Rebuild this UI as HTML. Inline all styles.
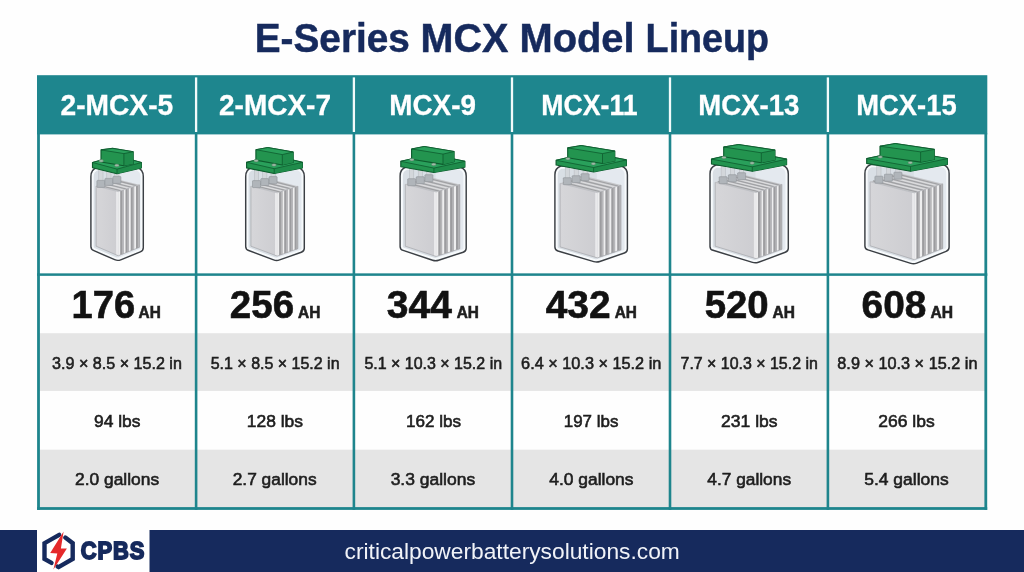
<!DOCTYPE html>
<html lang="en"><head><meta charset="utf-8"><title>E-Series MCX Model Lineup</title>
<style>
html,body{margin:0;padding:0;}
body{width:1024px;height:572px;overflow:hidden;background:#fefefe;position:relative;font-family:"Liberation Sans",Arial,sans-serif;}
.b{position:absolute;}
.t{position:absolute;left:0;top:0;white-space:pre;line-height:1;transform-origin:0 0;margin:0;}
h1.title{margin:0;font-size:41.3px;font-weight:bold;color:#162a5d;-webkit-text-stroke:0.5px #162a5d;}
</style></head><body>
<svg class="b" style="left:0;top:0" width="1024" height="572" viewBox="0 0 1024 572">
<rect x="37.00" y="75.20" width="950.30" height="59.20" fill="#1e868e"/>
<rect x="38.00" y="333.20" width="948.30" height="57.70" fill="#e5e5e5"/>
<rect x="38.00" y="449.70" width="948.30" height="59.20" fill="#e5e5e5"/>
<rect x="37.10" y="133.40" width="2.80" height="376.50" fill="#1e858d"/>
<rect x="984.40" y="133.40" width="2.80" height="376.50" fill="#1e858d"/>
<rect x="37.10" y="507.10" width="950.10" height="2.80" fill="#1e858d"/>
<rect x="37.00" y="273.35" width="950.30" height="2.50" fill="#1e858d"/>
<rect x="194.80" y="132.40" width="2.60" height="377.50" fill="#1e858d"/>
<rect x="194.95" y="77.40" width="2.30" height="54.60" fill="#f1fafa"/>
<rect x="352.60" y="132.40" width="2.60" height="377.50" fill="#1e858d"/>
<rect x="352.75" y="77.40" width="2.30" height="54.60" fill="#f1fafa"/>
<rect x="510.70" y="132.40" width="2.60" height="377.50" fill="#1e858d"/>
<rect x="510.85" y="77.40" width="2.30" height="54.60" fill="#f1fafa"/>
<rect x="668.70" y="132.40" width="2.60" height="377.50" fill="#1e858d"/>
<rect x="668.85" y="77.40" width="2.30" height="54.60" fill="#f1fafa"/>
<rect x="826.60" y="132.40" width="2.60" height="377.50" fill="#1e858d"/>
<rect x="826.75" y="77.40" width="2.30" height="54.60" fill="#f1fafa"/>
<rect x="0.00" y="530.00" width="1024.00" height="42.00" fill="#162a5d"/>
<rect x="37.00" y="530.00" width="112.50" height="42.00" fill="#ffffff"/>
</svg>
<h1 class="title">
<span class="t" style="transform:translate(254.71px,18.00px) scaleX(0.9387)">E-Series </span>
<span class="t" style="transform:translate(420.58px,18.00px) scaleX(0.9579)">MCX </span>
<span class="t" style="transform:translate(519.48px,18.00px) scaleX(0.9649)">Model </span>
<span class="t" style="transform:translate(645.61px,18.00px) scaleX(0.9125)">Lineup</span>
</h1>
<div class="t" style="font-size:28.97px;font-weight:bold;color:#ffffff;transform:translate(60.52px,91.00px) scaleX(0.9723);-webkit-text-stroke:0.3px #ffffff;">2-MCX-5</div>
<div class="t" style="font-size:28.97px;font-weight:bold;color:#ffffff;transform:translate(219.00px,91.00px) scaleX(0.9665);-webkit-text-stroke:0.3px #ffffff;">2-MCX-7</div>
<div class="t" style="font-size:28.97px;font-weight:bold;color:#ffffff;transform:translate(389.32px,91.00px) scaleX(0.9608);-webkit-text-stroke:0.3px #ffffff;">MCX-9</div>
<div class="t" style="font-size:28.97px;font-weight:bold;color:#ffffff;transform:translate(541.31px,91.00px) scaleX(0.9202);-webkit-text-stroke:0.3px #ffffff;">MCX-11</div>
<div class="t" style="font-size:28.97px;font-weight:bold;color:#ffffff;transform:translate(698.28px,91.00px) scaleX(0.9516);-webkit-text-stroke:0.3px #ffffff;">MCX-13</div>
<div class="t" style="font-size:28.97px;font-weight:bold;color:#ffffff;transform:translate(856.31px,91.00px) scaleX(0.9439);-webkit-text-stroke:0.3px #ffffff;">MCX-15</div>
<div class="t" style="font-size:38.53px;font-weight:bold;color:#121212;transform:translate(71.51px,286.00px) scaleX(0.9890);-webkit-text-stroke:0.6px #121212;">176</div>
<div class="t" style="font-size:16.33px;font-weight:bold;color:#1f1f1f;transform:translate(138.61px,304.00px) scaleX(0.9420);-webkit-text-stroke:0.6px #1f1f1f;">AH</div>
<div class="t" style="font-size:38.53px;font-weight:bold;color:#121212;transform:translate(229.84px,286.00px) scaleX(1.0014);-webkit-text-stroke:0.6px #121212;">256</div>
<div class="t" style="font-size:16.33px;font-weight:bold;color:#1f1f1f;transform:translate(298.02px,304.00px) scaleX(0.9457);-webkit-text-stroke:0.6px #1f1f1f;">AH</div>
<div class="t" style="font-size:38.53px;font-weight:bold;color:#121212;transform:translate(386.84px,286.00px) scaleX(1.0126);-webkit-text-stroke:0.6px #121212;">344</div>
<div class="t" style="font-size:16.33px;font-weight:bold;color:#1f1f1f;transform:translate(456.68px,304.00px) scaleX(0.9427);-webkit-text-stroke:0.6px #1f1f1f;">AH</div>
<div class="t" style="font-size:38.53px;font-weight:bold;color:#121212;transform:translate(545.71px,286.00px) scaleX(1.0107);-webkit-text-stroke:0.6px #121212;">432</div>
<div class="t" style="font-size:16.33px;font-weight:bold;color:#1f1f1f;transform:translate(614.68px,304.00px) scaleX(0.9427);-webkit-text-stroke:0.6px #1f1f1f;">AH</div>
<div class="t" style="font-size:38.53px;font-weight:bold;color:#121212;transform:translate(704.66px,286.00px) scaleX(0.9970);-webkit-text-stroke:0.6px #121212;">520</div>
<div class="t" style="font-size:16.33px;font-weight:bold;color:#1f1f1f;transform:translate(772.56px,304.00px) scaleX(0.9495);-webkit-text-stroke:0.6px #1f1f1f;">AH</div>
<div class="t" style="font-size:38.53px;font-weight:bold;color:#121212;transform:translate(861.54px,286.00px) scaleX(1.0091);-webkit-text-stroke:0.6px #121212;">608</div>
<div class="t" style="font-size:16.33px;font-weight:bold;color:#1f1f1f;transform:translate(930.44px,304.00px) scaleX(0.9574);-webkit-text-stroke:0.6px #1f1f1f;">AH</div>
<div class="t" style="font-size:17.28px;font-weight:normal;color:#1e1e1e;transform:translate(52.10px,355.00px) scaleX(0.9324);-webkit-text-stroke:0.6px #1e1e1e;">3.9 × 8.5 × 15.2 in</div>
<div class="t" style="font-size:17.28px;font-weight:normal;color:#1e1e1e;transform:translate(210.72px,355.00px) scaleX(0.9254);-webkit-text-stroke:0.6px #1e1e1e;">5.1 × 8.5 × 15.2 in</div>
<div class="t" style="font-size:17.28px;font-weight:normal;color:#1e1e1e;transform:translate(364.41px,355.00px) scaleX(0.9251);-webkit-text-stroke:0.6px #1e1e1e;">5.1 × 10.3 × 15.2 in</div>
<div class="t" style="font-size:17.28px;font-weight:normal;color:#1e1e1e;transform:translate(521.10px,355.00px) scaleX(0.9425);-webkit-text-stroke:0.6px #1e1e1e;">6.4 × 10.3 × 15.2 in</div>
<div class="t" style="font-size:17.28px;font-weight:normal;color:#1e1e1e;transform:translate(680.53px,355.00px) scaleX(0.9228);-webkit-text-stroke:0.6px #1e1e1e;">7.7 × 10.3 × 15.2 in</div>
<div class="t" style="font-size:17.28px;font-weight:normal;color:#1e1e1e;transform:translate(837.33px,355.00px) scaleX(0.9416);-webkit-text-stroke:0.6px #1e1e1e;">8.9 × 10.3 × 15.2 in</div>
<div class="t" style="font-size:17.28px;font-weight:normal;color:#1e1e1e;transform:translate(93.99px,413.00px) scaleX(1.0087);-webkit-text-stroke:0.6px #1e1e1e;">94 lbs</div>
<div class="t" style="font-size:17.28px;font-weight:normal;color:#1e1e1e;transform:translate(246.80px,413.00px) scaleX(1.0093);-webkit-text-stroke:0.6px #1e1e1e;">128 lbs</div>
<div class="t" style="font-size:17.28px;font-weight:normal;color:#1e1e1e;transform:translate(405.96px,413.00px) scaleX(0.9885);-webkit-text-stroke:0.6px #1e1e1e;">162 lbs</div>
<div class="t" style="font-size:17.28px;font-weight:normal;color:#1e1e1e;transform:translate(563.77px,413.00px) scaleX(0.9808);-webkit-text-stroke:0.6px #1e1e1e;">197 lbs</div>
<div class="t" style="font-size:17.28px;font-weight:normal;color:#1e1e1e;transform:translate(721.05px,413.00px) scaleX(1.0146);-webkit-text-stroke:0.6px #1e1e1e;">231 lbs</div>
<div class="t" style="font-size:17.28px;font-weight:normal;color:#1e1e1e;transform:translate(878.24px,413.00px) scaleX(1.0140);-webkit-text-stroke:0.6px #1e1e1e;">266 lbs</div>
<div class="t" style="font-size:17.28px;font-weight:normal;color:#1e1e1e;transform:translate(75.07px,471.00px) scaleX(1.0057);-webkit-text-stroke:0.6px #1e1e1e;">2.0 gallons</div>
<div class="t" style="font-size:17.28px;font-weight:normal;color:#1e1e1e;transform:translate(232.67px,471.00px) scaleX(1.0046);-webkit-text-stroke:0.6px #1e1e1e;">2.7 gallons</div>
<div class="t" style="font-size:17.28px;font-weight:normal;color:#1e1e1e;transform:translate(390.65px,471.00px) scaleX(1.0115);-webkit-text-stroke:0.6px #1e1e1e;">3.3 gallons</div>
<div class="t" style="font-size:17.28px;font-weight:normal;color:#1e1e1e;transform:translate(549.26px,471.00px) scaleX(1.0090);-webkit-text-stroke:0.6px #1e1e1e;">4.0 gallons</div>
<div class="t" style="font-size:17.28px;font-weight:normal;color:#1e1e1e;transform:translate(707.26px,471.00px) scaleX(1.0034);-webkit-text-stroke:0.6px #1e1e1e;">4.7 gallons</div>
<div class="t" style="font-size:17.28px;font-weight:normal;color:#1e1e1e;transform:translate(864.23px,471.00px) scaleX(1.0111);-webkit-text-stroke:0.6px #1e1e1e;">5.4 gallons</div>
<div class="t" style="font-size:21.70px;font-weight:normal;color:#f1f3f8;transform:translate(344.55px,541.00px) scaleX(1.0494);">criticalpowerbatterysolutions.com</div>
<div class="t" style="font-size:23.79px;font-weight:bold;color:#162a5d;transform:translate(80.80px,539.00px) scaleX(0.9201);-webkit-text-stroke:1.8px #162a5d;letter-spacing:1.0px;">CPBS</div>
<svg class="b" style="left:37px;top:530px" width="113" height="42" viewBox="37 530 113 42">
<g fill="none" stroke="#162a5d" stroke-width="4.4" stroke-linejoin="miter" stroke-linecap="round">
<polyline points="59.2,534.9 44.5,543.2 44.5,558.9 51.5,562.9"/>
<polyline points="65.3,537.6 72.7,543.2 72.7,558.9 58.6,567.1 57.6,566.6"/>
</g>
<polygon points="63.6,531.6 50.2,553.0 57.3,553.5 53.4,569.6 66.9,548.6 60.9,548.4" fill="#e5292b"/>
</svg>
<svg class="b" style="left:0;top:134px" width="1024" height="140" viewBox="0 134 1024 140">
<defs><linearGradient id="pg" x1="0" y1="0" x2="1" y2="0"><stop offset="0" stop-color="#d6d6d9"/><stop offset="1" stop-color="#cdcdd1"/></linearGradient></defs>
<clipPath id="jc0"><path d="M96.9,167.5 Q90.9,169.5 90.9,176.5 L90.9,246.4 Q90.9,249.4 93.9,250.7 L114.7,259.7 Q117.7,261.0 120.7,259.8 L140.3,251.9 Q143.3,250.7 143.3,247.7 L143.3,176.5 Q143.3,169.5 137.3,167.5 Z"/></clipPath>
<path d="M96.9,167.5 Q90.9,169.5 90.9,176.5 L90.9,246.4 Q90.9,249.4 93.9,250.7 L114.7,259.7 Q117.7,261.0 120.7,259.8 L140.3,251.9 Q143.3,250.7 143.3,247.7 L143.3,176.5 Q143.3,169.5 137.3,167.5 Z" fill="#d9dfe5"/>
<g clip-path="url(#jc0)">
<polygon points="117.7,167.5 143.3,167.5 143.3,250.7 117.7,261.0" fill="#e4e9ef"/>
<path d="M96.9,167.5 Q90.9,169.5 90.9,176.5 L90.9,246.4 Q90.9,249.4 93.9,250.7 L114.7,259.7 Q117.7,261.0 120.7,259.8 L140.3,251.9 Q143.3,250.7 143.3,247.7 L143.3,176.5 Q143.3,169.5 137.3,167.5 Z" fill="none" stroke="#f7fafc" stroke-width="5.6"/>
<polygon points="96.1,186.0 118.3,191.6 139.4,184.8 117.2,179.2" fill="#c6c7ca"/>
<line x1="98.7" y1="185.2" x2="120.9" y2="190.7" stroke="#9fa0a3" stroke-width="1.1"/>
<line x1="101.4" y1="184.3" x2="123.6" y2="189.9" stroke="#e4e4e6" stroke-width="0.8"/>
<line x1="104.0" y1="183.5" x2="126.2" y2="189.0" stroke="#9fa0a3" stroke-width="1.1"/>
<line x1="106.7" y1="182.6" x2="128.8" y2="188.2" stroke="#e4e4e6" stroke-width="0.8"/>
<line x1="109.3" y1="181.8" x2="131.5" y2="187.3" stroke="#9fa0a3" stroke-width="1.1"/>
<line x1="111.9" y1="180.9" x2="134.1" y2="186.5" stroke="#e4e4e6" stroke-width="0.8"/>
<line x1="114.6" y1="180.1" x2="136.8" y2="185.6" stroke="#9fa0a3" stroke-width="1.1"/>
<polygon points="118.3,191.6 139.4,184.8 139.4,247.3 118.3,255.8" fill="#eeeeef"/>
<polygon points="120.2,190.9 123.6,189.9 123.6,253.7 120.2,255.0" fill="#9c9c9f"/>
<polygon points="122.1,190.3 123.6,189.9 123.6,253.7 122.1,254.3" fill="#b7b7ba"/>
<polygon points="125.5,189.3 128.8,188.2 128.8,251.6 125.5,252.9" fill="#9c9c9f"/>
<polygon points="127.3,188.7 128.8,188.2 128.8,251.6 127.3,252.2" fill="#b7b7ba"/>
<polygon points="130.7,187.6 134.1,186.5 134.1,249.4 130.7,250.8" fill="#9c9c9f"/>
<polygon points="132.6,187.0 134.1,186.5 134.1,249.4 132.6,250.1" fill="#b7b7ba"/>
<polygon points="136.0,185.9 139.4,184.8 139.4,247.3 136.0,248.7" fill="#9c9c9f"/>
<polygon points="137.9,185.3 139.4,184.8 139.4,247.3 137.9,247.9" fill="#b7b7ba"/>
<polygon points="96.1,186.0 118.3,191.6 118.3,255.8 96.1,246.2" fill="url(#pg)"/>
<polygon points="116.1,191.1 118.3,191.6 118.3,255.8 116.1,254.9" fill="#e9e9eb"/>
<polyline points="96.1,186.0 96.1,246.2 118.3,255.8 139.4,247.3 139.4,184.8" fill="none" stroke="#a3a5a9" stroke-width="0.7"/>
<polyline points="96.1,186.0 118.3,191.6 139.4,184.8" fill="none" stroke="#b2b4b8" stroke-width="0.6"/>
<rect x="98.8" y="166.5" width="4.2" height="18.9" fill="#d3d7db" stroke="#b4b8bd" stroke-width="0.5"/>
<rect x="96.9" y="180.4" width="8.0" height="7.0" rx="0.6" fill="#b0b5ba" stroke="#8f9499" stroke-width="0.6"/>
<rect x="106.8" y="166.5" width="4.2" height="16.9" fill="#d3d7db" stroke="#b4b8bd" stroke-width="0.5"/>
<rect x="104.9" y="178.4" width="8.0" height="7.0" rx="0.6" fill="#b0b5ba" stroke="#8f9499" stroke-width="0.6"/>
<rect x="114.8" y="166.5" width="4.2" height="14.9" fill="#d3d7db" stroke="#b4b8bd" stroke-width="0.5"/>
<rect x="112.9" y="176.4" width="8.0" height="7.0" rx="0.6" fill="#b0b5ba" stroke="#8f9499" stroke-width="0.6"/>
</g>
<path d="M96.9,167.5 Q90.9,169.5 90.9,176.5 L90.9,246.4 Q90.9,249.4 93.9,250.7 L114.7,259.7 Q117.7,261.0 120.7,259.8 L140.3,251.9 Q143.3,250.7 143.3,247.7 L143.3,176.5 Q143.3,169.5 137.3,167.5 Z" fill="none" stroke="#3b3f44" stroke-width="1.45" stroke-linejoin="round"/>
<polygon points="92.5,162.5 116.9,155.9 141.4,162.5 141.4,168.0 117.0,173.7 92.5,167.7" fill="#23944f" stroke="#0e5c2e" stroke-width="1.15" stroke-linejoin="round"/>
<polygon points="117.0,169.1 141.4,162.5 141.4,168.0 117.0,173.7" fill="#1f8c4b"/>
<polygon points="92.5,162.5 116.9,155.9 141.4,162.5 117.0,169.1" fill="#29a05b" stroke="#0e5c2e" stroke-width="0.8" stroke-linejoin="round"/>
<line x1="117.0" y1="169.1" x2="117.0" y2="173.7" stroke="#0e5c2e" stroke-width="0.8"/>
<polygon points="101.0,149.9 112.6,148.4 133.2,151.7 133.2,163.8 123.9,165.8 101.0,162.0" fill="#23944f" stroke="#0e5c2e" stroke-width="1.15" stroke-linejoin="round"/>
<polygon points="123.9,153.6 133.2,151.7 133.2,163.8 123.9,165.8" fill="#1f8c4b"/>
<polygon points="101.0,149.9 112.6,148.4 133.2,151.7 123.9,153.6" fill="#29a05b" stroke="#0e5c2e" stroke-width="0.8" stroke-linejoin="round"/>
<line x1="123.9" y1="153.6" x2="123.9" y2="165.8" stroke="#0e5c2e" stroke-width="0.8"/>
<ellipse cx="101.2" cy="160.9" rx="2.3" ry="1.3" fill="#9fbca8" stroke="#4f7d5e" stroke-width="0.5"/>
<ellipse cx="116.8" cy="165.4" rx="2.3" ry="1.3" fill="#9fbca8" stroke="#4f7d5e" stroke-width="0.5"/>
<clipPath id="jc1"><path d="M251.7,167.5 Q245.7,169.5 245.7,176.5 L245.7,246.4 Q245.7,249.4 248.7,250.5 L273.6,259.9 Q276.6,261.0 279.6,259.9 L301.3,252.3 Q304.3,251.2 304.3,248.2 L304.3,176.5 Q304.3,169.5 298.3,167.5 Z"/></clipPath>
<path d="M251.7,167.5 Q245.7,169.5 245.7,176.5 L245.7,246.4 Q245.7,249.4 248.7,250.5 L273.6,259.9 Q276.6,261.0 279.6,259.9 L301.3,252.3 Q304.3,251.2 304.3,248.2 L304.3,176.5 Q304.3,169.5 298.3,167.5 Z" fill="#d9dfe5"/>
<g clip-path="url(#jc1)">
<polygon points="276.6,167.5 304.3,167.5 304.3,251.2 276.6,261.0" fill="#e4e9ef"/>
<path d="M251.7,167.5 Q245.7,169.5 245.7,176.5 L245.7,246.4 Q245.7,249.4 248.7,250.5 L273.6,259.9 Q276.6,261.0 279.6,259.9 L301.3,252.3 Q304.3,251.2 304.3,248.2 L304.3,176.5 Q304.3,169.5 298.3,167.5 Z" fill="none" stroke="#f7fafc" stroke-width="5.6"/>
<polygon points="250.9,186.2 277.2,192.8 297.9,186.2 271.6,179.6" fill="#c6c7ca"/>
<line x1="253.5" y1="185.4" x2="279.8" y2="191.9" stroke="#9fa0a3" stroke-width="1.1"/>
<line x1="256.1" y1="184.5" x2="282.4" y2="191.1" stroke="#e4e4e6" stroke-width="0.8"/>
<line x1="258.7" y1="183.7" x2="285.0" y2="190.3" stroke="#9fa0a3" stroke-width="1.1"/>
<line x1="261.2" y1="182.9" x2="287.6" y2="189.5" stroke="#e4e4e6" stroke-width="0.8"/>
<line x1="263.8" y1="182.1" x2="290.1" y2="188.6" stroke="#9fa0a3" stroke-width="1.1"/>
<line x1="266.4" y1="181.2" x2="292.7" y2="187.8" stroke="#e4e4e6" stroke-width="0.8"/>
<line x1="269.0" y1="180.4" x2="295.3" y2="187.0" stroke="#9fa0a3" stroke-width="1.1"/>
<polygon points="277.2,192.8 297.9,186.2 297.9,248.7 277.2,256.1" fill="#eeeeef"/>
<polygon points="279.1,192.2 282.4,191.1 282.4,254.2 279.1,255.4" fill="#9c9c9f"/>
<polygon points="280.9,191.6 282.4,191.1 282.4,254.2 280.9,254.8" fill="#b7b7ba"/>
<polygon points="284.2,190.5 287.6,189.5 287.6,252.4 284.2,253.6" fill="#9c9c9f"/>
<polygon points="286.1,189.9 287.6,189.5 287.6,252.4 286.1,252.9" fill="#b7b7ba"/>
<polygon points="289.4,188.9 292.7,187.8 292.7,250.6 289.4,251.8" fill="#9c9c9f"/>
<polygon points="291.2,188.3 292.7,187.8 292.7,250.6 291.2,251.1" fill="#b7b7ba"/>
<polygon points="294.6,187.2 297.9,186.2 297.9,248.7 294.6,249.9" fill="#9c9c9f"/>
<polygon points="296.4,186.6 297.9,186.2 297.9,248.7 296.4,249.3" fill="#b7b7ba"/>
<polygon points="250.9,186.2 277.2,192.8 277.2,256.1 250.9,246.2" fill="url(#pg)"/>
<polygon points="275.0,192.3 277.2,192.8 277.2,256.1 275.0,255.2" fill="#e9e9eb"/>
<polyline points="250.9,186.2 250.9,246.2 277.2,256.1 297.9,248.7 297.9,186.2" fill="none" stroke="#a3a5a9" stroke-width="0.7"/>
<polyline points="250.9,186.2 277.2,192.8 297.9,186.2" fill="none" stroke="#b2b4b8" stroke-width="0.6"/>
<rect x="254.4" y="166.5" width="4.2" height="19.1" fill="#d3d7db" stroke="#b4b8bd" stroke-width="0.5"/>
<rect x="252.5" y="180.6" width="8.0" height="7.0" rx="0.6" fill="#b0b5ba" stroke="#8f9499" stroke-width="0.6"/>
<rect x="262.7" y="166.5" width="4.2" height="17.1" fill="#d3d7db" stroke="#b4b8bd" stroke-width="0.5"/>
<rect x="260.8" y="178.6" width="8.0" height="7.0" rx="0.6" fill="#b0b5ba" stroke="#8f9499" stroke-width="0.6"/>
<rect x="271.0" y="166.5" width="4.2" height="15.1" fill="#d3d7db" stroke="#b4b8bd" stroke-width="0.5"/>
<rect x="269.1" y="176.6" width="8.0" height="7.0" rx="0.6" fill="#b0b5ba" stroke="#8f9499" stroke-width="0.6"/>
</g>
<path d="M251.7,167.5 Q245.7,169.5 245.7,176.5 L245.7,246.4 Q245.7,249.4 248.7,250.5 L273.6,259.9 Q276.6,261.0 279.6,259.9 L301.3,252.3 Q304.3,251.2 304.3,248.2 L304.3,176.5 Q304.3,169.5 298.3,167.5 Z" fill="none" stroke="#3b3f44" stroke-width="1.45" stroke-linejoin="round"/>
<polygon points="246.6,162.3 274.9,155.9 302.4,162.3 302.4,168.0 274.2,173.5 246.6,167.9" fill="#23944f" stroke="#0e5c2e" stroke-width="1.15" stroke-linejoin="round"/>
<polygon points="274.2,168.7 302.4,162.3 302.4,168.0 274.2,173.5" fill="#1f8c4b"/>
<polygon points="246.6,162.3 274.9,155.9 302.4,162.3 274.2,168.7" fill="#29a05b" stroke="#0e5c2e" stroke-width="0.8" stroke-linejoin="round"/>
<line x1="274.2" y1="168.7" x2="274.2" y2="173.5" stroke="#0e5c2e" stroke-width="0.8"/>
<polygon points="255.9,149.7 267.8,147.6 293.2,152.0 293.2,162.4 282.3,165.0 255.9,160.1" fill="#23944f" stroke="#0e5c2e" stroke-width="1.15" stroke-linejoin="round"/>
<polygon points="282.3,154.6 293.2,152.0 293.2,162.4 282.3,165.0" fill="#1f8c4b"/>
<polygon points="255.9,149.7 267.8,147.6 293.2,152.0 282.3,154.6" fill="#29a05b" stroke="#0e5c2e" stroke-width="0.8" stroke-linejoin="round"/>
<line x1="282.3" y1="154.6" x2="282.3" y2="165.0" stroke="#0e5c2e" stroke-width="0.8"/>
<ellipse cx="256.1" cy="160.7" rx="2.3" ry="1.3" fill="#9fbca8" stroke="#4f7d5e" stroke-width="0.5"/>
<ellipse cx="274.0" cy="165.0" rx="2.3" ry="1.3" fill="#9fbca8" stroke="#4f7d5e" stroke-width="0.5"/>
<clipPath id="jc2"><path d="M406.1,167.0 Q400.1,169.0 400.1,176.0 L400.1,246.4 Q400.1,249.4 403.1,250.4 L432.6,260.2 Q435.6,261.2 438.6,260.2 L463.2,252.2 Q466.2,251.2 466.2,248.2 L466.2,176.0 Q466.2,169.0 460.2,167.0 Z"/></clipPath>
<path d="M406.1,167.0 Q400.1,169.0 400.1,176.0 L400.1,246.4 Q400.1,249.4 403.1,250.4 L432.6,260.2 Q435.6,261.2 438.6,260.2 L463.2,252.2 Q466.2,251.2 466.2,248.2 L466.2,176.0 Q466.2,169.0 460.2,167.0 Z" fill="#d9dfe5"/>
<g clip-path="url(#jc2)">
<polygon points="435.6,167.0 466.2,167.0 466.2,251.2 435.6,261.2" fill="#e4e9ef"/>
<path d="M406.1,167.0 Q400.1,169.0 400.1,176.0 L400.1,246.4 Q400.1,249.4 403.1,250.4 L432.6,260.2 Q435.6,261.2 438.6,260.2 L463.2,252.2 Q466.2,251.2 466.2,248.2 L466.2,176.0 Q466.2,169.0 460.2,167.0 Z" fill="none" stroke="#f7fafc" stroke-width="5.6"/>
<polygon points="405.3,184.3 436.2,192.0 459.8,184.5 428.9,176.7" fill="#c6c7ca"/>
<line x1="408.2" y1="183.4" x2="439.2" y2="191.1" stroke="#9fa0a3" stroke-width="1.1"/>
<line x1="411.2" y1="182.4" x2="442.1" y2="190.1" stroke="#e4e4e6" stroke-width="0.8"/>
<line x1="414.1" y1="181.5" x2="445.1" y2="189.2" stroke="#9fa0a3" stroke-width="1.1"/>
<line x1="417.1" y1="180.5" x2="448.0" y2="188.2" stroke="#e4e4e6" stroke-width="0.8"/>
<line x1="420.1" y1="179.6" x2="451.0" y2="187.3" stroke="#9fa0a3" stroke-width="1.1"/>
<line x1="423.0" y1="178.6" x2="453.9" y2="186.4" stroke="#e4e4e6" stroke-width="0.8"/>
<line x1="425.9" y1="177.7" x2="456.9" y2="185.4" stroke="#9fa0a3" stroke-width="1.1"/>
<polygon points="436.2,192.0 459.8,184.5 459.8,248.8 436.2,256.5" fill="#eeeeef"/>
<polygon points="438.3,191.3 442.1,190.1 442.1,254.5 438.3,255.8" fill="#9c9c9f"/>
<polygon points="440.4,190.7 442.1,190.1 442.1,254.5 440.4,255.1" fill="#b7b7ba"/>
<polygon points="444.2,189.5 448.0,188.2 448.0,252.6 444.2,253.8" fill="#9c9c9f"/>
<polygon points="446.3,188.8 448.0,188.2 448.0,252.6 446.3,253.2" fill="#b7b7ba"/>
<polygon points="450.1,187.6 453.9,186.4 453.9,250.7 450.1,251.9" fill="#9c9c9f"/>
<polygon points="452.2,186.9 453.9,186.4 453.9,250.7 452.2,251.2" fill="#b7b7ba"/>
<polygon points="456.0,185.7 459.8,184.5 459.8,248.8 456.0,250.0" fill="#9c9c9f"/>
<polygon points="458.1,185.0 459.8,184.5 459.8,248.8 458.1,249.3" fill="#b7b7ba"/>
<polygon points="405.3,184.3 436.2,192.0 436.2,256.5 405.3,246.2" fill="url(#pg)"/>
<polygon points="434.0,191.6 436.2,192.0 436.2,256.5 434.0,255.7" fill="#e9e9eb"/>
<polyline points="405.3,184.3 405.3,246.2 436.2,256.5 459.8,248.8 459.8,184.5" fill="none" stroke="#a3a5a9" stroke-width="0.7"/>
<polyline points="405.3,184.3 436.2,192.0 459.8,184.5" fill="none" stroke="#b2b4b8" stroke-width="0.6"/>
<rect x="409.6" y="166.0" width="4.2" height="17.7" fill="#d3d7db" stroke="#b4b8bd" stroke-width="0.5"/>
<rect x="407.7" y="178.7" width="8.0" height="7.0" rx="0.6" fill="#b0b5ba" stroke="#8f9499" stroke-width="0.6"/>
<rect x="418.2" y="166.0" width="4.2" height="15.7" fill="#d3d7db" stroke="#b4b8bd" stroke-width="0.5"/>
<rect x="416.3" y="176.7" width="8.0" height="7.0" rx="0.6" fill="#b0b5ba" stroke="#8f9499" stroke-width="0.6"/>
<rect x="426.8" y="166.0" width="4.2" height="13.7" fill="#d3d7db" stroke="#b4b8bd" stroke-width="0.5"/>
<rect x="424.9" y="174.7" width="8.0" height="7.0" rx="0.6" fill="#b0b5ba" stroke="#8f9499" stroke-width="0.6"/>
</g>
<path d="M406.1,167.0 Q400.1,169.0 400.1,176.0 L400.1,246.4 Q400.1,249.4 403.1,250.4 L432.6,260.2 Q435.6,261.2 438.6,260.2 L463.2,252.2 Q466.2,251.2 466.2,248.2 L466.2,176.0 Q466.2,169.0 460.2,167.0 Z" fill="none" stroke="#3b3f44" stroke-width="1.45" stroke-linejoin="round"/>
<polygon points="400.8,161.3 431.8,154.5 464.9,161.3 464.9,167.1 433.9,172.5 400.8,166.7" fill="#23944f" stroke="#0e5c2e" stroke-width="1.15" stroke-linejoin="round"/>
<polygon points="433.9,168.1 464.9,161.3 464.9,167.1 433.9,172.5" fill="#1f8c4b"/>
<polygon points="400.8,161.3 431.8,154.5 464.9,161.3 433.9,168.1" fill="#29a05b" stroke="#0e5c2e" stroke-width="0.8" stroke-linejoin="round"/>
<line x1="433.9" y1="168.1" x2="433.9" y2="172.5" stroke="#0e5c2e" stroke-width="0.8"/>
<polygon points="411.6,149.0 424.2,146.5 454.1,151.5 454.1,161.8 443.0,164.4 411.6,159.3" fill="#23944f" stroke="#0e5c2e" stroke-width="1.15" stroke-linejoin="round"/>
<polygon points="443.0,154.1 454.1,151.5 454.1,161.8 443.0,164.4" fill="#1f8c4b"/>
<polygon points="411.6,149.0 424.2,146.5 454.1,151.5 443.0,154.1" fill="#29a05b" stroke="#0e5c2e" stroke-width="0.8" stroke-linejoin="round"/>
<line x1="443.0" y1="154.1" x2="443.0" y2="164.4" stroke="#0e5c2e" stroke-width="0.8"/>
<ellipse cx="411.8" cy="159.7" rx="2.3" ry="1.3" fill="#9fbca8" stroke="#4f7d5e" stroke-width="0.5"/>
<ellipse cx="433.7" cy="164.4" rx="2.3" ry="1.3" fill="#9fbca8" stroke="#4f7d5e" stroke-width="0.5"/>
<clipPath id="jc3"><path d="M560.9,166.0 Q554.9,168.0 554.9,175.0 L554.9,247.1 Q554.9,250.1 557.9,251.0 L593.8,261.6 Q596.8,262.5 599.8,261.5 L624.4,253.0 Q627.4,252.0 627.4,249.0 L627.4,175.0 Q627.4,168.0 621.4,166.0 Z"/></clipPath>
<path d="M560.9,166.0 Q554.9,168.0 554.9,175.0 L554.9,247.1 Q554.9,250.1 557.9,251.0 L593.8,261.6 Q596.8,262.5 599.8,261.5 L624.4,253.0 Q627.4,252.0 627.4,249.0 L627.4,175.0 Q627.4,168.0 621.4,166.0 Z" fill="#d9dfe5"/>
<g clip-path="url(#jc3)">
<polygon points="596.8,166.0 627.4,166.0 627.4,252.0 596.8,262.5" fill="#e4e9ef"/>
<path d="M560.9,166.0 Q554.9,168.0 554.9,175.0 L554.9,247.1 Q554.9,250.1 557.9,251.0 L593.8,261.6 Q596.8,262.5 599.8,261.5 L624.4,253.0 Q627.4,252.0 627.4,249.0 L627.4,175.0 Q627.4,168.0 621.4,166.0 Z" fill="none" stroke="#f7fafc" stroke-width="5.6"/>
<polygon points="560.1,183.3 597.4,192.6 621.0,185.1 583.7,175.7" fill="#c6c7ca"/>
<line x1="563.1" y1="182.4" x2="600.4" y2="191.7" stroke="#9fa0a3" stroke-width="1.1"/>
<line x1="566.0" y1="181.4" x2="603.3" y2="190.7" stroke="#e4e4e6" stroke-width="0.8"/>
<line x1="569.0" y1="180.5" x2="606.2" y2="189.8" stroke="#9fa0a3" stroke-width="1.1"/>
<line x1="571.9" y1="179.5" x2="609.2" y2="188.8" stroke="#e4e4e6" stroke-width="0.8"/>
<line x1="574.9" y1="178.6" x2="612.1" y2="187.9" stroke="#9fa0a3" stroke-width="1.1"/>
<line x1="577.8" y1="177.6" x2="615.1" y2="187.0" stroke="#e4e4e6" stroke-width="0.8"/>
<line x1="580.8" y1="176.7" x2="618.0" y2="186.0" stroke="#9fa0a3" stroke-width="1.1"/>
<polygon points="597.4,192.6 621.0,185.1 621.0,249.8 597.4,257.9" fill="#eeeeef"/>
<polygon points="599.5,191.9 603.3,190.7 603.3,255.9 599.5,257.2" fill="#9c9c9f"/>
<polygon points="601.6,191.3 603.3,190.7 603.3,255.9 601.6,256.5" fill="#b7b7ba"/>
<polygon points="605.4,190.1 609.2,188.8 609.2,253.9 605.4,255.2" fill="#9c9c9f"/>
<polygon points="607.5,189.4 609.2,188.8 609.2,253.9 607.5,254.5" fill="#b7b7ba"/>
<polygon points="611.3,188.2 615.1,187.0 615.1,251.9 611.3,253.2" fill="#9c9c9f"/>
<polygon points="613.4,187.5 615.1,187.0 615.1,251.9 613.4,252.4" fill="#b7b7ba"/>
<polygon points="617.2,186.3 621.0,185.1 621.0,249.8 617.2,251.1" fill="#9c9c9f"/>
<polygon points="619.3,185.6 621.0,185.1 621.0,249.8 619.3,250.4" fill="#b7b7ba"/>
<polygon points="560.1,183.3 597.4,192.6 597.4,257.9 560.1,246.9" fill="url(#pg)"/>
<polygon points="595.2,192.2 597.4,192.6 597.4,257.9 595.2,257.3" fill="#e9e9eb"/>
<polyline points="560.1,183.3 560.1,246.9 597.4,257.9 621.0,249.8 621.0,185.1" fill="none" stroke="#a3a5a9" stroke-width="0.7"/>
<polyline points="560.1,183.3 597.4,192.6 621.0,185.1" fill="none" stroke="#b2b4b8" stroke-width="0.6"/>
<rect x="565.2" y="165.0" width="4.2" height="17.7" fill="#d3d7db" stroke="#b4b8bd" stroke-width="0.5"/>
<rect x="563.3" y="177.7" width="8.0" height="7.0" rx="0.6" fill="#b0b5ba" stroke="#8f9499" stroke-width="0.6"/>
<rect x="574.1" y="165.0" width="4.2" height="15.7" fill="#d3d7db" stroke="#b4b8bd" stroke-width="0.5"/>
<rect x="572.2" y="175.7" width="8.0" height="7.0" rx="0.6" fill="#b0b5ba" stroke="#8f9499" stroke-width="0.6"/>
<rect x="583.0" y="165.0" width="4.2" height="13.7" fill="#d3d7db" stroke="#b4b8bd" stroke-width="0.5"/>
<rect x="581.1" y="173.7" width="8.0" height="7.0" rx="0.6" fill="#b0b5ba" stroke="#8f9499" stroke-width="0.6"/>
</g>
<path d="M560.9,166.0 Q554.9,168.0 554.9,175.0 L554.9,247.1 Q554.9,250.1 557.9,251.0 L593.8,261.6 Q596.8,262.5 599.8,261.5 L624.4,253.0 Q627.4,252.0 627.4,249.0 L627.4,175.0 Q627.4,168.0 621.4,166.0 Z" fill="none" stroke="#3b3f44" stroke-width="1.45" stroke-linejoin="round"/>
<polygon points="556.1,160.3 588.9,152.7 626.4,159.9 626.4,165.6 593.6,172.0 556.1,165.0" fill="#23944f" stroke="#0e5c2e" stroke-width="1.15" stroke-linejoin="round"/>
<polygon points="593.6,167.5 626.4,159.9 626.4,165.6 593.6,172.0" fill="#1f8c4b"/>
<polygon points="556.1,160.3 588.9,152.7 626.4,159.9 593.6,167.5" fill="#29a05b" stroke="#0e5c2e" stroke-width="0.8" stroke-linejoin="round"/>
<line x1="593.6" y1="167.5" x2="593.6" y2="172.0" stroke="#0e5c2e" stroke-width="0.8"/>
<polygon points="567.7,147.9 581.2,145.6 614.8,151.1 614.8,161.0 602.5,163.5 567.7,157.8" fill="#23944f" stroke="#0e5c2e" stroke-width="1.15" stroke-linejoin="round"/>
<polygon points="602.5,153.6 614.8,151.1 614.8,161.0 602.5,163.5" fill="#1f8c4b"/>
<polygon points="567.7,147.9 581.2,145.6 614.8,151.1 602.5,153.6" fill="#29a05b" stroke="#0e5c2e" stroke-width="0.8" stroke-linejoin="round"/>
<line x1="602.5" y1="153.6" x2="602.5" y2="163.5" stroke="#0e5c2e" stroke-width="0.8"/>
<ellipse cx="567.9" cy="158.7" rx="2.3" ry="1.3" fill="#9fbca8" stroke="#4f7d5e" stroke-width="0.5"/>
<ellipse cx="593.4" cy="163.8" rx="2.3" ry="1.3" fill="#9fbca8" stroke="#4f7d5e" stroke-width="0.5"/>
<clipPath id="jc4"><path d="M716.0,165.0 Q710.0,167.0 710.0,174.0 L710.0,246.4 Q710.0,249.4 713.0,250.3 L752.5,262.4 Q755.5,263.3 758.5,262.2 L785.3,252.3 Q788.3,251.2 788.3,248.2 L788.3,174.0 Q788.3,167.0 782.3,165.0 Z"/></clipPath>
<path d="M716.0,165.0 Q710.0,167.0 710.0,174.0 L710.0,246.4 Q710.0,249.4 713.0,250.3 L752.5,262.4 Q755.5,263.3 758.5,262.2 L785.3,252.3 Q788.3,251.2 788.3,248.2 L788.3,174.0 Q788.3,167.0 782.3,165.0 Z" fill="#d9dfe5"/>
<g clip-path="url(#jc4)">
<polygon points="755.5,165.0 788.3,165.0 788.3,251.2 755.5,263.3" fill="#e4e9ef"/>
<path d="M716.0,165.0 Q710.0,167.0 710.0,174.0 L710.0,246.4 Q710.0,249.4 713.0,250.3 L752.5,262.4 Q755.5,263.3 758.5,262.2 L785.3,252.3 Q788.3,251.2 788.3,248.2 L788.3,174.0 Q788.3,167.0 782.3,165.0 Z" fill="none" stroke="#f7fafc" stroke-width="5.6"/>
<polygon points="715.2,182.3 756.1,192.5 781.9,184.3 741.0,174.0" fill="#c6c7ca"/>
<line x1="717.8" y1="181.5" x2="758.7" y2="191.7" stroke="#9fa0a3" stroke-width="1.1"/>
<line x1="720.4" y1="180.6" x2="761.3" y2="190.9" stroke="#e4e4e6" stroke-width="0.8"/>
<line x1="722.9" y1="179.8" x2="763.8" y2="190.0" stroke="#9fa0a3" stroke-width="1.1"/>
<line x1="725.5" y1="179.0" x2="766.4" y2="189.2" stroke="#e4e4e6" stroke-width="0.8"/>
<line x1="728.1" y1="178.2" x2="769.0" y2="188.4" stroke="#9fa0a3" stroke-width="1.1"/>
<line x1="730.7" y1="177.3" x2="771.6" y2="187.6" stroke="#e4e4e6" stroke-width="0.8"/>
<line x1="733.3" y1="176.5" x2="774.2" y2="186.7" stroke="#9fa0a3" stroke-width="1.1"/>
<line x1="735.8" y1="175.7" x2="776.7" y2="185.9" stroke="#e4e4e6" stroke-width="0.8"/>
<line x1="738.4" y1="174.9" x2="779.3" y2="185.1" stroke="#9fa0a3" stroke-width="1.1"/>
<polygon points="756.1,192.5 781.9,184.3 781.9,249.2 756.1,258.7" fill="#eeeeef"/>
<polygon points="758.0,191.9 761.3,190.9 761.3,256.8 758.0,258.0" fill="#9c9c9f"/>
<polygon points="759.8,191.3 761.3,190.9 761.3,256.8 759.8,257.3" fill="#b7b7ba"/>
<polygon points="763.1,190.3 766.4,189.2 766.4,254.9 763.1,256.1" fill="#9c9c9f"/>
<polygon points="764.9,189.7 766.4,189.2 766.4,254.9 764.9,255.4" fill="#b7b7ba"/>
<polygon points="768.3,188.6 771.6,187.6 771.6,253.0 768.3,254.2" fill="#9c9c9f"/>
<polygon points="770.1,188.0 771.6,187.6 771.6,253.0 770.1,253.5" fill="#b7b7ba"/>
<polygon points="773.4,187.0 776.7,185.9 776.7,251.1 773.4,252.3" fill="#9c9c9f"/>
<polygon points="775.3,186.4 776.7,185.9 776.7,251.1 775.3,251.6" fill="#b7b7ba"/>
<polygon points="778.6,185.3 781.9,184.3 781.9,249.2 778.6,250.4" fill="#9c9c9f"/>
<polygon points="780.4,184.7 781.9,184.3 781.9,249.2 780.4,249.7" fill="#b7b7ba"/>
<polygon points="715.2,182.3 756.1,192.5 756.1,258.7 715.2,246.2" fill="url(#pg)"/>
<polygon points="753.9,192.1 756.1,192.5 756.1,258.7 753.9,258.0" fill="#e9e9eb"/>
<polyline points="715.2,182.3 715.2,246.2 756.1,258.7 781.9,249.2 781.9,184.3" fill="none" stroke="#a3a5a9" stroke-width="0.7"/>
<polyline points="715.2,182.3 756.1,192.5 781.9,184.3" fill="none" stroke="#b2b4b8" stroke-width="0.6"/>
<rect x="721.1" y="164.0" width="4.2" height="17.7" fill="#d3d7db" stroke="#b4b8bd" stroke-width="0.5"/>
<rect x="719.2" y="176.7" width="8.0" height="7.0" rx="0.6" fill="#b0b5ba" stroke="#8f9499" stroke-width="0.6"/>
<rect x="730.3" y="164.0" width="4.2" height="15.7" fill="#d3d7db" stroke="#b4b8bd" stroke-width="0.5"/>
<rect x="728.4" y="174.7" width="8.0" height="7.0" rx="0.6" fill="#b0b5ba" stroke="#8f9499" stroke-width="0.6"/>
<rect x="739.5" y="164.0" width="4.2" height="13.7" fill="#d3d7db" stroke="#b4b8bd" stroke-width="0.5"/>
<rect x="737.6" y="172.7" width="8.0" height="7.0" rx="0.6" fill="#b0b5ba" stroke="#8f9499" stroke-width="0.6"/>
</g>
<path d="M716.0,165.0 Q710.0,167.0 710.0,174.0 L710.0,246.4 Q710.0,249.4 713.0,250.3 L752.5,262.4 Q755.5,263.3 758.5,262.2 L785.3,252.3 Q788.3,251.2 788.3,248.2 L788.3,174.0 Q788.3,167.0 782.3,165.0 Z" fill="none" stroke="#3b3f44" stroke-width="1.45" stroke-linejoin="round"/>
<polygon points="711.5,159.1 745.8,151.4 786.6,159.1 786.6,164.8 752.3,171.3 711.5,164.0" fill="#23944f" stroke="#0e5c2e" stroke-width="1.15" stroke-linejoin="round"/>
<polygon points="752.3,166.8 786.6,159.1 786.6,164.8 752.3,171.3" fill="#1f8c4b"/>
<polygon points="711.5,159.1 745.8,151.4 786.6,159.1 752.3,166.8" fill="#29a05b" stroke="#0e5c2e" stroke-width="0.8" stroke-linejoin="round"/>
<line x1="752.3" y1="166.8" x2="752.3" y2="171.3" stroke="#0e5c2e" stroke-width="0.8"/>
<polygon points="723.7,147.0 738.5,144.6 775.0,150.1 775.0,159.9 761.3,162.7 723.7,156.8" fill="#23944f" stroke="#0e5c2e" stroke-width="1.15" stroke-linejoin="round"/>
<polygon points="761.3,152.8 775.0,150.1 775.0,159.9 761.3,162.7" fill="#1f8c4b"/>
<polygon points="723.7,147.0 738.5,144.6 775.0,150.1 761.3,152.8" fill="#29a05b" stroke="#0e5c2e" stroke-width="0.8" stroke-linejoin="round"/>
<line x1="761.3" y1="152.8" x2="761.3" y2="162.7" stroke="#0e5c2e" stroke-width="0.8"/>
<ellipse cx="723.9" cy="157.5" rx="2.3" ry="1.3" fill="#9fbca8" stroke="#4f7d5e" stroke-width="0.5"/>
<ellipse cx="752.1" cy="163.1" rx="2.3" ry="1.3" fill="#9fbca8" stroke="#4f7d5e" stroke-width="0.5"/>
<clipPath id="jc5"><path d="M870.9,164.5 Q864.9,166.5 864.9,173.5 L864.9,246.0 Q864.9,249.0 867.9,249.9 L910.8,263.4 Q913.8,264.3 916.8,263.1 L946.1,251.4 Q949.1,250.2 949.1,247.2 L949.1,173.5 Q949.1,166.5 943.1,164.5 Z"/></clipPath>
<path d="M870.9,164.5 Q864.9,166.5 864.9,173.5 L864.9,246.0 Q864.9,249.0 867.9,249.9 L910.8,263.4 Q913.8,264.3 916.8,263.1 L946.1,251.4 Q949.1,250.2 949.1,247.2 L949.1,173.5 Q949.1,166.5 943.1,164.5 Z" fill="#d9dfe5"/>
<g clip-path="url(#jc5)">
<polygon points="913.8,164.5 949.1,164.5 949.1,250.2 913.8,264.3" fill="#e4e9ef"/>
<path d="M870.9,164.5 Q864.9,166.5 864.9,173.5 L864.9,246.0 Q864.9,249.0 867.9,249.9 L910.8,263.4 Q913.8,264.3 916.8,263.1 L946.1,251.4 Q949.1,250.2 949.1,247.2 L949.1,173.5 Q949.1,166.5 943.1,164.5 Z" fill="none" stroke="#f7fafc" stroke-width="5.6"/>
<polygon points="870.1,181.8 914.4,192.9 942.7,183.8 898.5,172.7" fill="#c6c7ca"/>
<line x1="872.9" y1="180.9" x2="917.2" y2="192.0" stroke="#9fa0a3" stroke-width="1.1"/>
<line x1="875.8" y1="180.0" x2="920.0" y2="191.0" stroke="#e4e4e6" stroke-width="0.8"/>
<line x1="878.6" y1="179.1" x2="922.9" y2="190.1" stroke="#9fa0a3" stroke-width="1.1"/>
<line x1="881.4" y1="178.2" x2="925.7" y2="189.2" stroke="#e4e4e6" stroke-width="0.8"/>
<line x1="884.3" y1="177.3" x2="928.5" y2="188.3" stroke="#9fa0a3" stroke-width="1.1"/>
<line x1="887.1" y1="176.4" x2="931.4" y2="187.4" stroke="#e4e4e6" stroke-width="0.8"/>
<line x1="889.9" y1="175.4" x2="934.2" y2="186.5" stroke="#9fa0a3" stroke-width="1.1"/>
<line x1="892.8" y1="174.5" x2="937.0" y2="185.6" stroke="#e4e4e6" stroke-width="0.8"/>
<line x1="895.6" y1="173.6" x2="939.9" y2="184.7" stroke="#9fa0a3" stroke-width="1.1"/>
<polygon points="914.4,192.9 942.7,183.8 942.7,248.4 914.4,259.7" fill="#eeeeef"/>
<polygon points="916.4,192.2 920.0,191.0 920.0,257.4 916.4,258.8" fill="#9c9c9f"/>
<polygon points="918.4,191.6 920.0,191.0 920.0,257.4 918.4,258.0" fill="#b7b7ba"/>
<polygon points="922.1,190.4 925.7,189.2 925.7,255.1 922.1,256.6" fill="#9c9c9f"/>
<polygon points="924.1,189.8 925.7,189.2 925.7,255.1 924.1,255.8" fill="#b7b7ba"/>
<polygon points="927.7,188.6 931.4,187.4 931.4,252.9 927.7,254.3" fill="#9c9c9f"/>
<polygon points="929.7,187.9 931.4,187.4 931.4,252.9 929.7,253.5" fill="#b7b7ba"/>
<polygon points="933.4,186.8 937.0,185.6 937.0,250.6 933.4,252.1" fill="#9c9c9f"/>
<polygon points="935.4,186.1 937.0,185.6 937.0,250.6 935.4,251.3" fill="#b7b7ba"/>
<polygon points="939.1,185.0 942.7,183.8 942.7,248.4 939.1,249.8" fill="#9c9c9f"/>
<polygon points="941.1,184.3 942.7,183.8 942.7,248.4 941.1,249.0" fill="#b7b7ba"/>
<polygon points="870.1,181.8 914.4,192.9 914.4,259.7 870.1,245.8" fill="url(#pg)"/>
<polygon points="912.1,192.4 914.4,192.9 914.4,259.7 912.1,259.0" fill="#e9e9eb"/>
<polyline points="870.1,181.8 870.1,245.8 914.4,259.7 942.7,248.4 942.7,183.8" fill="none" stroke="#a3a5a9" stroke-width="0.7"/>
<polyline points="870.1,181.8 914.4,192.9 942.7,183.8" fill="none" stroke="#b2b4b8" stroke-width="0.6"/>
<rect x="876.8" y="163.5" width="4.2" height="17.7" fill="#d3d7db" stroke="#b4b8bd" stroke-width="0.5"/>
<rect x="874.9" y="176.2" width="8.0" height="7.0" rx="0.6" fill="#b0b5ba" stroke="#8f9499" stroke-width="0.6"/>
<rect x="886.3" y="163.5" width="4.2" height="15.7" fill="#d3d7db" stroke="#b4b8bd" stroke-width="0.5"/>
<rect x="884.4" y="174.2" width="8.0" height="7.0" rx="0.6" fill="#b0b5ba" stroke="#8f9499" stroke-width="0.6"/>
<rect x="895.8" y="163.5" width="4.2" height="13.7" fill="#d3d7db" stroke="#b4b8bd" stroke-width="0.5"/>
<rect x="893.9" y="172.2" width="8.0" height="7.0" rx="0.6" fill="#b0b5ba" stroke="#8f9499" stroke-width="0.6"/>
</g>
<path d="M870.9,164.5 Q864.9,166.5 864.9,173.5 L864.9,246.0 Q864.9,249.0 867.9,249.9 L910.8,263.4 Q913.8,264.3 916.8,263.1 L946.1,251.4 Q949.1,250.2 949.1,247.2 L949.1,173.5 Q949.1,166.5 943.1,164.5 Z" fill="none" stroke="#3b3f44" stroke-width="1.45" stroke-linejoin="round"/>
<polygon points="866.7,158.6 903.6,150.8 947.4,158.6 947.4,164.4 910.5,171.2 866.7,163.4" fill="#23944f" stroke="#0e5c2e" stroke-width="1.15" stroke-linejoin="round"/>
<polygon points="910.5,166.4 947.4,158.6 947.4,164.4 910.5,171.2" fill="#1f8c4b"/>
<polygon points="866.7,158.6 903.6,150.8 947.4,158.6 910.5,166.4" fill="#29a05b" stroke="#0e5c2e" stroke-width="0.8" stroke-linejoin="round"/>
<line x1="910.5" y1="166.4" x2="910.5" y2="171.2" stroke="#0e5c2e" stroke-width="0.8"/>
<polygon points="880.0,146.2 895.3,143.6 934.3,149.4 934.3,159.5 920.6,162.1 880.0,156.3" fill="#23944f" stroke="#0e5c2e" stroke-width="1.15" stroke-linejoin="round"/>
<polygon points="920.6,151.9 934.3,149.4 934.3,159.5 920.6,162.1" fill="#1f8c4b"/>
<polygon points="880.0,146.2 895.3,143.6 934.3,149.4 920.6,151.9" fill="#29a05b" stroke="#0e5c2e" stroke-width="0.8" stroke-linejoin="round"/>
<line x1="920.6" y1="151.9" x2="920.6" y2="162.1" stroke="#0e5c2e" stroke-width="0.8"/>
<ellipse cx="880.2" cy="157.0" rx="2.3" ry="1.3" fill="#9fbca8" stroke="#4f7d5e" stroke-width="0.5"/>
<ellipse cx="910.3" cy="162.7" rx="2.3" ry="1.3" fill="#9fbca8" stroke="#4f7d5e" stroke-width="0.5"/>
</svg>
</body></html>
